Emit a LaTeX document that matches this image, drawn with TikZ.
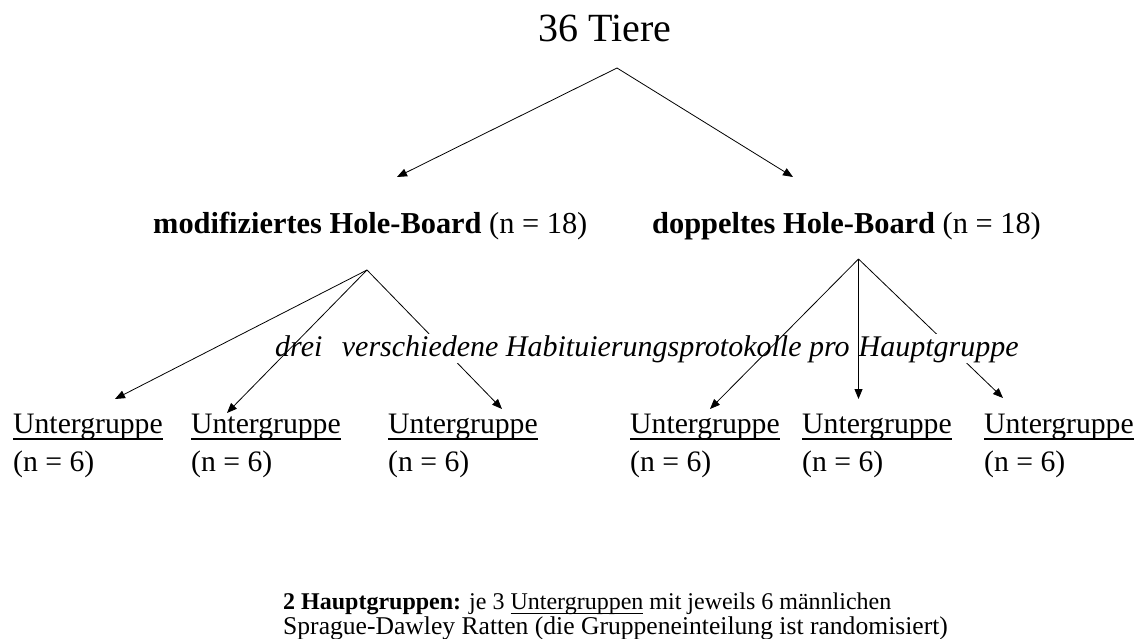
\documentclass[tikz,border=0pt]{standalone}
\usepackage{fontspec}
\setmainfont{Liberation Serif}
\usetikzlibrary{arrows.meta}
% underline set close to the baseline
\newcommand{\tightul}[1]{\setbox0\hbox{#1}\rlap{\rule[-0.22em]{\wd0}{0.055em}}\box0\relax}
\begin{document}
\begin{tikzpicture}[x=1pt,y=-1pt,
  conn/.style={line width=0.8pt,-{Triangle[length=10pt,width=8pt]}},
  lbl/.style={anchor=base west,inner sep=0pt},
  titlefont/.style={font=\fontsize{40}{48}\selectfont},
  groupfont/.style={font=\fontsize{30.4}{36}\selectfont},
  subfont/.style={font=\fontsize{29.7}{34}\selectfont},
  notefonta/.style={font=\fontsize{24}{28}\selectfont},
  notefontb/.style={font=\fontsize{25.6}{30}\selectfont},
  protofont/.style={font=\fontsize{30}{34}\selectfont\itshape},
]
\useasboundingbox (0,0) rectangle (1139,639);

% top level
\node[lbl,titlefont] (root) at (538,42) {36 Tiere};
\coordinate (rootapex) at (617,68);

% main groups
\node[lbl,groupfont] (mod) at (153,233) {\textbf{modifiziertes Hole-Board} (n = 18)};
\node[lbl,groupfont] (dop) at (652,233) {\textbf{doppeltes Hole-Board} (n = 18)};
\coordinate (modtip) at (397,177);
\coordinate (doptip) at (793,177);
\coordinate (modapex) at (367,270);
\coordinate (dopapex) at (858.5,259);

\draw[conn] (rootapex) -- (modtip);
\draw[conn] (rootapex) -- (doptip);

% subgroups
\foreach \name/\x in {ua/13, ub/191, uc/388, ud/630, ue/802, uf/984}{
  \node[lbl,subfont] (\name) at (\x,433) {\tightul{Untergruppe}};
  \node[lbl,subfont] (\name n) at (\x,471) {(n = 6)};
}
\coordinate (ta) at (115,399);
\coordinate (tb) at (227,413);
\coordinate (tc) at (502,409);
\coordinate (td) at (710,409);
\coordinate (te) at (858.5,399);
\coordinate (tf) at (1003,398);

% arrows running behind the label
\draw[conn] (modapex) -- (tc);
\draw[conn] (dopapex) -- (tf);

\node[lbl,protofont,fill=white,inner ysep=1pt] (proto) at (275,356)
  {drei\hspace{0.4em} verschiedene Habituierungsprotokolle pro\hspace{0.3em}Hauptgruppe};

% arrows drawn over the label
\draw[conn] (modapex) -- (ta);
\draw[conn] (modapex) -- (tb);
\draw[conn] (dopapex) -- (td);
\draw[conn] (dopapex) -- (te);

% note
\node[lbl,notefonta] (note1) at (283,609)
  {\textbf{2 Hauptgruppen:} je 3 \tightul{Untergruppen} mit jeweils 6 männlichen};
\node[lbl,notefontb] (note2) at (283,634)
  {Sprague-Dawley Ratten (die Gruppeneinteilung ist randomisiert)};
\end{tikzpicture}
\end{document}
